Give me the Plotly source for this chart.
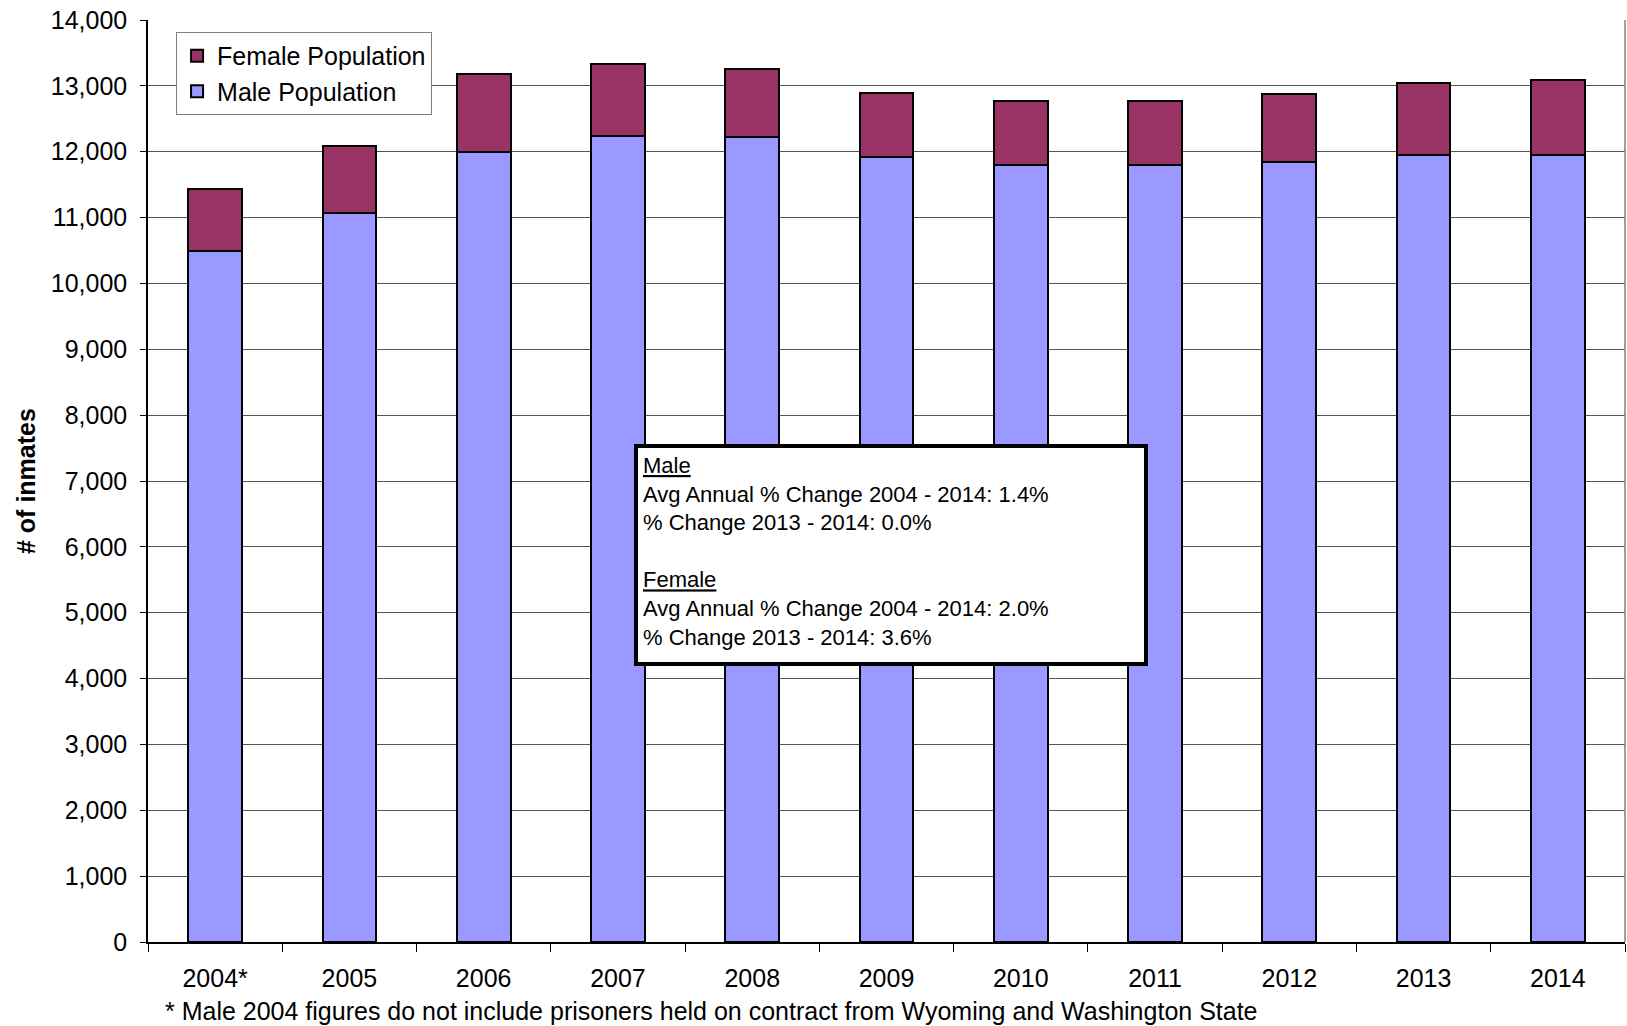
import plotly.graph_objects as go

years = ["2004*", "2005", "2006", "2007", "2008", "2009", "2010", "2011", "2012", "2013", "2014"]
male = [10490, 11075, 11995, 12242, 12227, 11914, 11793, 11802, 11843, 11957, 11955]
total = [11437, 12085, 13184, 13338, 13263, 12889, 12768, 12777, 12878, 13046, 13086]
female = [t - m for t, m in zip(total, male)]

FONT = "Arial, Liberation Sans, sans-serif"

fig = go.Figure()
fig.add_trace(go.Bar(x=years, y=male, name="Male Population", legendgroup="m",
                     marker=dict(color="#9999FF", line=dict(color="black", width=2))))
fig.add_trace(go.Bar(x=years, y=female, name="Female Population", legendgroup="f",
                     marker=dict(color="#993366", line=dict(color="black", width=2))))

box_text = ("<u>Male</u><br>Avg Annual % Change 2004 - 2014: 1.4%<br>% Change 2013 - 2014: 0.0%<br><br>"
            "<u>Female</u><br>Avg Annual % Change 2004 - 2014: 2.0%<br>% Change 2013 - 2014: 3.6%")

fig.update_layout(
    width=1627, height=1026,
    margin=dict(l=148, r=2, t=20, b=84),
    barmode="stack", bargap=0.6,
    plot_bgcolor="white", paper_bgcolor="white",
    font=dict(family=FONT, size=25, color="black"),
    showlegend=True,
    legend=dict(x=0.019, y=0.987, xanchor="left", yanchor="top",
                traceorder="reversed", tracegroupgap=7, bordercolor="#808080", borderwidth=1,
                bgcolor="white", font=dict(size=25, family=FONT)),
    xaxis=dict(showline=True, linecolor="black", linewidth=1.5, ticks="outside",
               tickson="boundaries", ticklen=8, tickcolor="black",
               tickfont=dict(size=25, family=FONT), ticklabelstandoff=13,
               showgrid=False),
    yaxis=dict(range=[0, 14000], dtick=1000, tickformat=",", showline=True,
               linecolor="black", linewidth=1.5, ticks="outside", ticklen=6,
               tickcolor="black", ticklabelstandoff=8, showgrid=True,
               gridcolor="#555555", gridwidth=1, zeroline=False,
               tickfont=dict(size=25, family=FONT)),
    annotations=[
        dict(text="<b># of inmates</b>", xref="paper", yref="paper", x=-0.0826, y=0.5,
             xanchor="center", yanchor="middle", textangle=-90, showarrow=False,
             font=dict(size=25, family=FONT)),
        dict(text="* Male 2004 figures do not include prisoners held on contract from Wyoming and Washington State",
             xref="paper", yref="paper", x=0.0102, y=-0.0743, xanchor="left", yanchor="middle",
             showarrow=False, font=dict(size=25, family=FONT)),
        dict(text=box_text, xref="paper", yref="paper", x=0.503, y=0.4197,
             xanchor="center", yanchor="middle", showarrow=False, align="left",
             valign="top", width=496, height=204, bgcolor="white",
             bordercolor="black", borderwidth=4, borderpad=5,
             font=dict(size=22, family=FONT)),
    ],
    shapes=[dict(type="line", xref="paper", yref="paper", x0=1, x1=1, y0=0, y1=1,
                 line=dict(color="#808080", width=1.5))],
)

fig.write_html("out.html", config={"displayModeBar": False},
               post_script="document.body.style.margin='0';document.body.style.overflow='hidden';")
